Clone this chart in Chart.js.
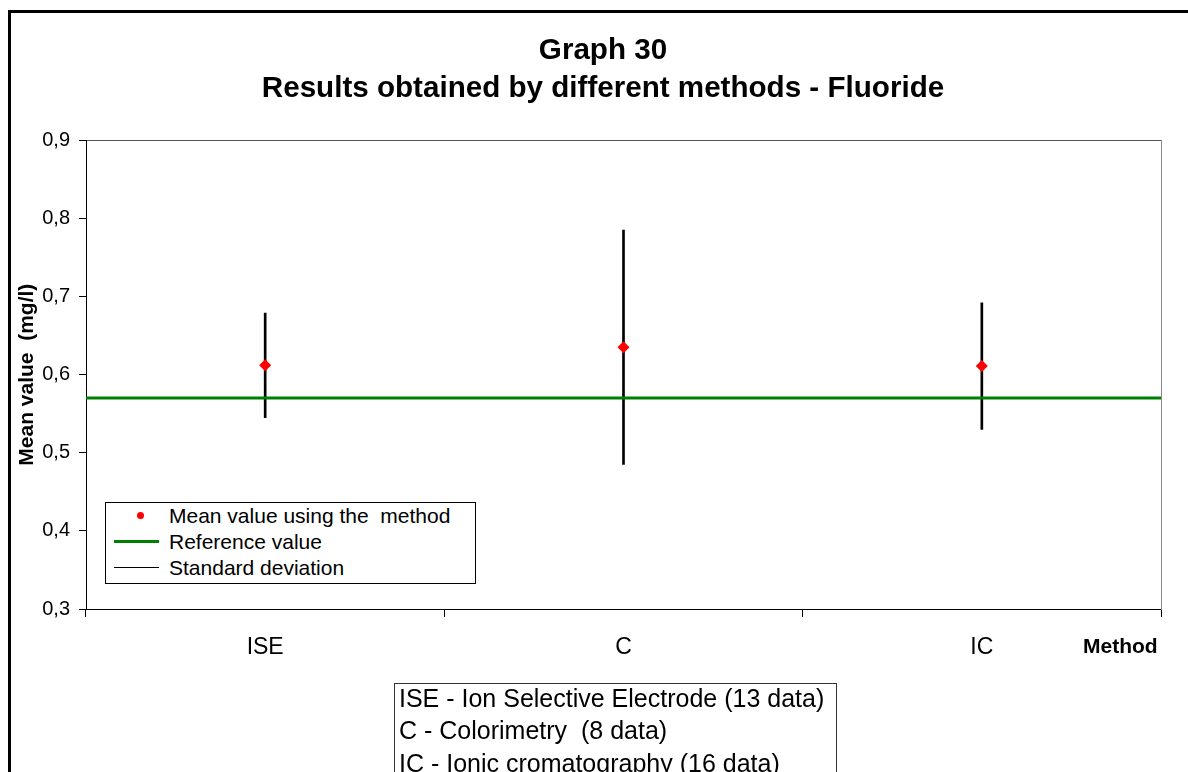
<!DOCTYPE html>
<html>
<head>
<meta charset="utf-8">
<script src="https://cdn.jsdelivr.net/npm/chart.js@4.4.0/dist/chart.umd.min.js"></script>
<style>
  body { margin:0; background:#fff; overflow:hidden; font-family:'Liberation Sans', Arial, sans-serif; color:#000; }
  #frame { position:absolute; left:8px; top:10px; width:1300px; height:900px; border:3px solid #000; }
  #chart { position:absolute; left:0; top:0; }
  .abs { position:absolute; white-space:pre; }
  #legend { position:absolute; left:105px; top:502px; width:369px; height:80px; border:1px solid #000; background:#fff; }
  #legend .txt { position:absolute; left:63px; font-size:21px; line-height:26px; white-space:pre; }
  #legend .dot { position:absolute; left:31px; width:7px; height:7px; border-radius:50%; background:#f00; }
  #legend .ln { position:absolute; left:8px; width:45px; }
  #axisName { left:1083px; top:634px; font-size:21px; font-weight:bold; }
  #notes { position:absolute; left:394px; top:683px; width:441px; height:120px; border:1px solid #333; background:#fff; }
  #notes div { position:absolute; left:4px; font-size:25px; line-height:32px; white-space:pre; }
</style>
</head>
<body>
<div id="frame"></div>
<canvas id="chart" width="1188" height="772"></canvas>
<div id="legend">
  <div class="dot" style="top:9px"></div>
  <div class="txt" style="top:0px">Mean value using the  method</div>
  <div class="ln" style="top:37px;height:3px;background:#008000"></div>
  <div class="txt" style="top:26px">Reference value</div>
  <div class="ln" style="top:64px;height:1px;background:#000"></div>
  <div class="txt" style="top:52px">Standard deviation</div>
</div>
<div id="axisName" class="abs">Method</div>
<div id="notes">
  <div style="top:-2px">ISE - Ion Selective Electrode (13 data)</div>
  <div style="top:30px">C - Colorimetry  (8 data)</div>
  <div style="top:63px">IC - Ionic cromatography (16 data)</div>
</div>
<script>
// Graph 30 - fluoride results by method
const methods = ['ISE', 'C', 'IC'];
const meanValues = [0.612, 0.635, 0.611];
const stdDevs = [0.067, 0.150, 0.081];
const referenceValue = 0.570;
const yMin = 0.3, yMax = 0.9, yStep = 0.1;

Chart.defaults.font.family = "'Liberation Sans', Arial, sans-serif";
Chart.defaults.color = '#000';

const sdRanges = methods.map((m, i) => [meanValues[i] - stdDevs[i], meanValues[i] + stdDevs[i]]);

const ctx = document.getElementById('chart').getContext('2d');
new Chart(ctx, {
  type: 'bar',
  data: {
    labels: methods,
    datasets: [
      { type:'bar', label:'Standard deviation', data: sdRanges, backgroundColor:'#000', barThickness:2, grouped:false, order:3 },
      { type:'line', label:'Reference value', xAxisID:'xr',
        data: [{x:0, y:referenceValue}, {x:1, y:referenceValue}],
        borderColor:'#008000', borderWidth:3, pointRadius:0, order:2 },
      { type:'line', label:'Mean value using the  method', data: meanValues, showLine:false,
        pointStyle:'rectRot', pointRadius:6, pointBackgroundColor:'#f00', pointBorderColor:'#f00', pointBorderWidth:0, order:1 }
    ]
  },
  options: {
    responsive:false, animation:false, devicePixelRatio:1,
    layout:{ padding:{ left:18, right:0, top:0, bottom:0 } },
    plugins:{
      legend:{ display:false },
      tooltip:{ enabled:false },
      title:{ display:true, text:['Graph 30', 'Results obtained by different methods - Fluoride'],
        font:{ size:29.6, weight:'bold', lineHeight:1.29 }, color:'#000', padding:{ top:32, bottom:32 } }
    },
    scales:{
      x:{ type:'category', offset:true,
        grid:{ offset:true, drawOnChartArea:false, tickLength:8, color:'#000' },
        border:{ color:'#000' },
        ticks:{ font:{ size:23 }, color:'#000', padding:17, maxRotation:0 },
        afterFit: s => { s.height = 163; } },
      xr:{ type:'linear', position:'top', min:0, max:1, offset:false,
        grid:{ display:false, offset:false }, ticks:{ display:false }, border:{ color:'#555' },
        afterFit: s => { s.height = 0; } },
      y:{ min:yMin, max:yMax,
        ticks:{ stepSize:yStep, font:{ size:20 }, color:'#000', padding:9,
          callback: v => v.toFixed(1).replace('.', ',') },
        grid:{ drawOnChartArea:false, tickLength:7, color:'#000' },
        border:{ color:'#000' },
        title:{ display:true, text:'Mean value  (mg/l)', font:{ size:21, weight:'bold' }, color:'#000', padding:{ top:-3, bottom:4 } },
        afterFit: s => { s.width = 68; } },
      y2:{ type:'linear', position:'right',
        grid:{ display:false }, ticks:{ display:false }, border:{ color:'#888' },
        afterFit: s => { s.width = 27; } }
    }
  }
});
</script>
</body>
</html>
